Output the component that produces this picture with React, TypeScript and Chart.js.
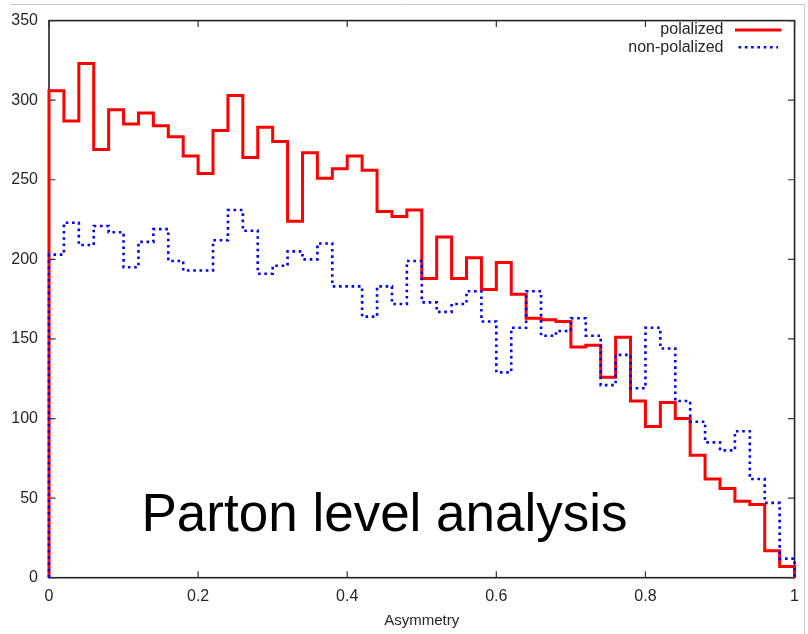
import React, { useEffect, useRef } from "react";
import { Chart, registerables } from "chart.js";

Chart.register(...registerables);

// Histogram: 50 bins of width 0.02 over Asymmetry in [0, 1]
const binWidth = 0.02;
const polarized = [
  306, 287, 323, 269, 294, 285, 292, 284, 277, 265,
  254, 281, 303, 264, 283, 274, 224, 267, 251, 257,
  265, 256, 230, 227, 231, 188, 214, 188, 201, 181,
  198, 178, 163, 162, 161, 145, 146, 126, 151, 111,
  95, 110, 100, 77, 62, 56, 48, 46, 17, 7,
];
const nonPolarized = [
  203, 223, 209, 221, 217, 195, 211, 219, 199, 193,
  193, 212, 231, 218, 191, 196, 205, 200, 210, 183,
  183, 164, 183, 172, 199, 173, 167, 172, 180, 161,
  129, 157, 180, 152, 155, 163, 152, 121, 140, 119,
  157, 144, 111, 98, 85, 80, 92, 62, 47, 12,
];
const seriesNames = ["polalized", "non-polalized"];
const xTickLabels = ["0", "0.2", "0.4", "0.6", "0.8", "1"];
const yTickLabels = ["0", "50", "100", "150", "200", "250", "300", "350"];
const xTitle = "Asymmetry";
const annotation = "Parton level analysis";

function stepPoints(vals: number[]) {
  const pts: { x: number; y: number }[] = [{ x: 0, y: 0 }];
  vals.forEach((v, i) => pts.push({ x: i * binWidth, y: v }));
  pts.push({ x: vals.length * binWidth, y: vals[vals.length - 1] });
  pts.push({ x: vals.length * binWidth, y: 0 });
  return pts;
}

const FONT = "'Liberation Sans', Arial, Helvetica, sans-serif";
const TEXT = "#262626";

const framePlugin = {
  id: "gnuplotFrame",
  beforeDatasetsDraw(chart: any) {
    const { ctx, chartArea: a, scales } = chart;
    ctx.save();
    // faint outer image border
    ctx.strokeStyle = "#c8c8c8";
    ctx.lineWidth = 1;
    ctx.beginPath();
    ctx.moveTo(10, 4.5);
    ctx.lineTo(804.5, 4.5);
    ctx.lineTo(804.5, 634);
    ctx.stroke();
    // frame
    ctx.strokeStyle = "#222";
    ctx.lineWidth = 1.6;
    ctx.strokeRect(a.left, a.top, a.right - a.left, a.bottom - a.top);
    // inward tick marks
    const tl = 6.5;
    ctx.lineWidth = 1.2;
    ctx.strokeStyle = "#333";
    ctx.beginPath();
    scales.x.ticks.forEach((t: any) => {
      const px = scales.x.getPixelForValue(t.value);
      ctx.moveTo(px, a.bottom);
      ctx.lineTo(px, a.bottom - tl);
      ctx.moveTo(px, a.top);
      ctx.lineTo(px, a.top + tl);
    });
    scales.y.ticks.forEach((t: any) => {
      const py = scales.y.getPixelForValue(t.value);
      ctx.moveTo(a.left, py);
      ctx.lineTo(a.left + tl, py);
      ctx.moveTo(a.right, py);
      ctx.lineTo(a.right - tl, py);
    });
    ctx.stroke();
    ctx.restore();
  },
  afterDraw(chart: any) {
    const { ctx } = chart;
    ctx.save();
    // legend (gnuplot style: text right-aligned, sample to the right)
    ctx.font = `16px ${FONT}`;
    ctx.fillStyle = TEXT;
    ctx.textAlign = "right";
    ctx.textBaseline = "middle";
    const rows = [30, 47.3];
    chart.data.datasets.forEach((ds: any, i: number) => {
      const y = rows[i];
      ctx.fillText(seriesNames[i], 723.5, y);
      ctx.beginPath();
      ctx.strokeStyle = ds.borderColor;
      ctx.lineWidth = ds.borderWidth;
      ctx.setLineDash(ds.borderDash || []);
      if (ds.borderDash) {
        ctx.moveTo(738.5, y);
        ctx.lineTo(778, y);
      } else {
        ctx.moveTo(735, y);
        ctx.lineTo(781.5, y);
      }
      ctx.stroke();
      ctx.setLineDash([]);
    });
    // big annotation
    ctx.font = `53px ${FONT}`;
    ctx.fillStyle = "#000";
    ctx.textAlign = "left";
    ctx.textBaseline = "alphabetic";
    ctx.fillText(annotation, 141.5, 531);
    ctx.restore();
  },
};

export default function App() {
  const ref = useRef<HTMLCanvasElement | null>(null);
  useEffect(() => {
    document.body.style.margin = "0";
    const canvas = ref.current;
    if (!canvas) return;
    const chart = new Chart(canvas, {
      type: "line",
      data: {
        datasets: [
          {
            label: seriesNames[0],
            data: stepPoints(polarized),
            borderColor: "#ff0000",
            borderWidth: 3,
            stepped: "before",
            pointRadius: 0,
            fill: false,
            clip: false,
            order: 2,
          },
          {
            label: seriesNames[1],
            data: stepPoints(nonPolarized),
            borderColor: "#0000ff",
            borderWidth: 2.6,
            borderDash: [2.6, 3.7],
            stepped: "before",
            pointRadius: 0,
            fill: false,
            clip: false,
            order: 1,
          },
        ] as any,
      },
      options: {
        animation: false,
        responsive: false,
        layout: { padding: { top: 13.5, right: 8, left: 0, bottom: 0 } },
        plugins: {
          legend: { display: false },
          tooltip: { enabled: false },
        },
        scales: {
          x: {
            type: "linear",
            min: 0,
            max: 1,
            afterFit: (s: any) => {
              s.height = 56.3;
            },
            ticks: {
              stepSize: 0.2,
              padding: 9,
              color: TEXT,
              font: { family: FONT, size: 16 },
              maxRotation: 0,
              callback: (v: any) => xTickLabels[Math.round(Number(v) / 0.2)] ?? "",
            },
            grid: { display: false, drawTicks: false },
            border: { display: false },
            title: {
              display: true,
              text: xTitle,
              color: TEXT,
              font: { family: FONT, size: 15 },
              padding: { top: 0, bottom: 4.5 },
            },
          },
          y: {
            type: "linear",
            min: 0,
            max: 350,
            afterFit: (s: any) => {
              s.width = 49;
            },
            ticks: {
              stepSize: 50,
              padding: 11,
              color: TEXT,
              font: { family: FONT, size: 16 },
              callback: (v: any) => yTickLabels[Math.round(Number(v) / 50)] ?? "",
            },
            grid: { display: false, drawTicks: false },
            border: { display: false },
          },
        },
      },
      plugins: [framePlugin],
    } as any);
    return () => chart.destroy();
  }, []);
  return (
    <div style={{ width: 808, height: 634, background: "#fff" }}>
      <canvas ref={ref} width={808} height={634} style={{ display: "block" }} />
    </div>
  );
}
